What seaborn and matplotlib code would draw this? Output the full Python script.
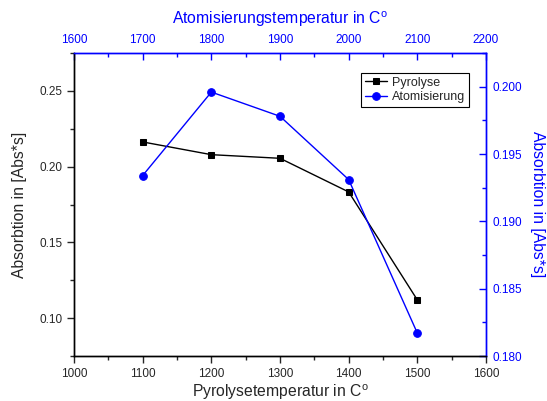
#! /usr/bin/env python3

import matplotlib
matplotlib.use('Agg')
import matplotlib.pyplot as plt
from matplotlib.ticker import MultipleLocator, FormatStrFormatter
import seaborn as sns

# data
pyro_temp = [1100, 1200, 1300, 1400, 1500]
pyro_abs = [0.2163, 0.2079, 0.2055, 0.1833, 0.1120]
atom_temp = [1700, 1800, 1900, 2000, 2100]
atom_abs = [0.1934, 0.1996, 0.1978, 0.1931, 0.1817]

BLUE = '#0000ff'

sns.set_style('ticks')
plt.rcParams['font.family'] = ['Liberation Sans', 'DejaVu Sans']
plt.rcParams['mathtext.default'] = 'regular'

fig = plt.figure(figsize=(5.47, 4.01), dpi=100)
rect = [0.1353, 0.1122, 0.7532, 0.7556]
ax = fig.add_axes(rect)
ax2 = fig.add_axes(rect, label='atom')  # top x / right y
ax2.patch.set_visible(False)

sns.lineplot(x=pyro_temp, y=pyro_abs, ax=ax, color='black', marker='s',
             markersize=5, markeredgecolor='black', linewidth=1,
             label='Pyrolyse', legend=False)
sns.lineplot(x=atom_temp, y=atom_abs, ax=ax2, color=BLUE, marker='o',
             markersize=5.5, markeredgecolor=BLUE, linewidth=1,
             label='Atomisierung', legend=False)

# bottom / left axes
ax.set_xlim(1000, 1600)
ax.set_ylim(0.075, 0.275)
ax.xaxis.set_major_locator(MultipleLocator(100))
ax.xaxis.set_minor_locator(MultipleLocator(50))
ax.yaxis.set_major_locator(MultipleLocator(0.05))
ax.yaxis.set_minor_locator(MultipleLocator(0.025))
ax.yaxis.set_major_formatter(FormatStrFormatter('%.2f'))
ax.tick_params(which='both', direction='out', labelsize=8.5, width=1,
               top=False, right=False)
ax.tick_params(which='major', length=5)
ax.tick_params(which='minor', length=3)
ax.set_xlabel('Pyrolysetemperatur in C$^{o}$', fontsize=11.3, labelpad=2)
ax.set_ylabel('Absorbtion in [Abs*s]', fontsize=11.3, labelpad=9)

# top / right axes, ticks point inward there
ax2.set_xlim(1600, 2200)
ax2.set_ylim(0.180, 0.2025)
ax2.xaxis.tick_top()
ax2.xaxis.set_label_position('top')
ax2.yaxis.tick_right()
ax2.yaxis.set_label_position('right')
ax2.xaxis.set_major_locator(MultipleLocator(100))
ax2.xaxis.set_minor_locator(MultipleLocator(50))
ax2.yaxis.set_major_locator(MultipleLocator(0.005))
ax2.yaxis.set_minor_locator(MultipleLocator(0.0025))
ax2.yaxis.set_major_formatter(FormatStrFormatter('%.3f'))
ax2.tick_params(which='both', direction='in', labelsize=8.5, width=1,
                colors=BLUE, labelcolor=BLUE, pad=5)
ax2.tick_params(which='major', length=5)
ax2.tick_params(which='minor', length=3)
ax2.set_xlabel('Atomisierungstemperatur in C$^{o}$', fontsize=11.3,
               color=BLUE, labelpad=7)
ax2.set_ylabel('Absorbtion in [Abs*s]', fontsize=11.3, color=BLUE,
               rotation=270, labelpad=16)

for a in (ax, ax2):
    for s in a.spines.values():
        s.set_linewidth(1)
    a.spines['top'].set_color(BLUE)
    a.spines['right'].set_color(BLUE)
    a.spines['left'].set_color('black')
    a.spines['bottom'].set_color('black')

h1, l1 = ax.get_legend_handles_labels()
h2, l2 = ax2.get_legend_handles_labels()
leg = ax2.legend(h1 + h2, l1 + l2, loc='upper right', fontsize=9,
                 frameon=True, fancybox=False, edgecolor='black',
                 framealpha=1, borderpad=0.3, handlelength=1.8,
                 handletextpad=0.4, labelspacing=0.2,
                 bbox_to_anchor=(0.975, 0.955))
leg.get_frame().set_linewidth(0.8)

fig.savefig('out.png', dpi=100)
